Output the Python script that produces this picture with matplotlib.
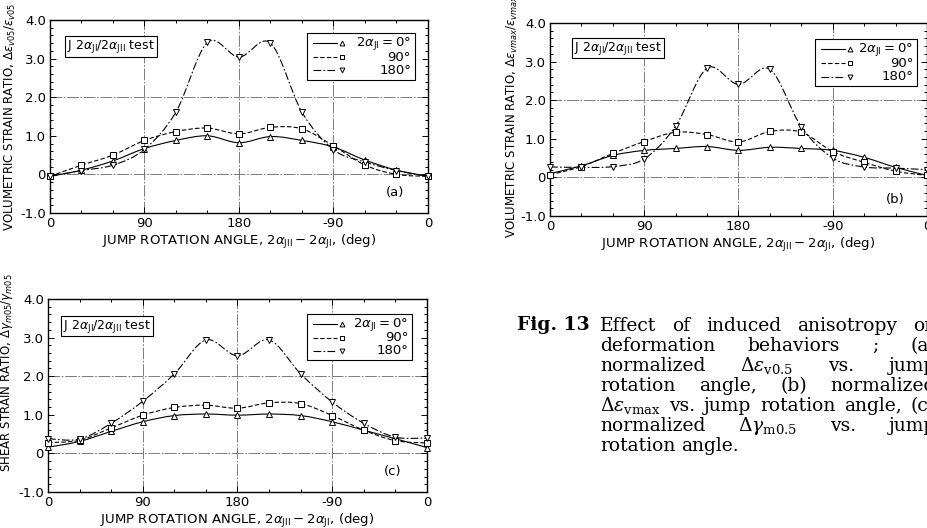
import matplotlib
matplotlib.use("Agg")
import matplotlib.pyplot as plt
from matplotlib.path import Path
from matplotlib.patches import PathPatch, Rectangle

W, H, DPI = 928, 528, 100

plt.rcParams["font.family"] = ["DejaVu Sans"]
plt.rcParams["mathtext.fontset"] = "dejavusans"

# jump rotation angle, 0..360 deg (labelled 0, 90, 180, -90, 0)
angle = [0, 30, 60, 90, 120, 150, 180, 210, 240, 270, 300, 330, 360]
tick_pos = [0, 90, 180, 270, 360]
tick_labels = ["0", "90", "180", "-90", "0"]

# (a) volumetric strain ratio, d eps_v0.5
a_0 = [-0.05, 0.11, 0.35, 0.67, 0.88, 1.00, 0.82, 0.98, 0.88, 0.71, 0.37, 0.11, -0.05]
a_90 = [-0.05, 0.24, 0.50, 0.88, 1.11, 1.20, 1.05, 1.22, 1.18, 0.74, 0.24, 0.00, -0.05]
a_180 = [-0.05, 0.10, 0.24, 0.65, 1.62, 3.42, 3.04, 3.40, 1.61, 0.64, 0.32, 0.10, -0.05]

# (b) volumetric strain ratio, d eps_vmax
b_0 = [0.10, 0.30, 0.57, 0.70, 0.75, 0.80, 0.70, 0.78, 0.75, 0.70, 0.52, 0.26, 0.05]
b_90 = [0.07, 0.28, 0.62, 0.93, 1.17, 1.11, 0.92, 1.19, 1.17, 0.67, 0.39, 0.16, 0.05]
b_180 = [0.27, 0.26, 0.28, 0.48, 1.33, 2.83, 2.41, 2.80, 1.31, 0.50, 0.27, 0.24, 0.20]

# (c) shear strain ratio, d gamma_m0.5
c_0 = [0.16, 0.31, 0.57, 0.82, 0.98, 1.02, 0.99, 1.02, 0.98, 0.82, 0.60, 0.38, 0.15]
c_90 = [0.28, 0.34, 0.66, 0.99, 1.19, 1.25, 1.17, 1.31, 1.29, 0.98, 0.60, 0.33, 0.27]
c_180 = [0.38, 0.37, 0.78, 1.35, 2.06, 2.94, 2.53, 2.94, 2.06, 1.33, 0.78, 0.42, 0.40]

series_labels = [r"$2\alpha_{\rm JI}=0°$", "90°", "180°"]
series_styles = ["-", (0, (4, 2)), (0, (7, 2, 1.5, 2))]
series_markers = ["^", "s", "v"]

ylabels = [
    r"VOLUMETRIC STRAIN RATIO, $\Delta\varepsilon_{v05}/\varepsilon_{v05}$",
    r"VOLUMETRIC STRAIN RATIO, $\Delta\varepsilon_{vmax}/\varepsilon_{vmax}$",
    r"SHEAR STRAIN RATIO, $\Delta\gamma_{m05}/\gamma_{m05}$",
]
xlabel = r"JUMP ROTATION ANGLE, $2\alpha_{\rm JII}-2\alpha_{\rm JI}$, (deg)"
test_label = r"J $2\alpha_{\rm JI}/2\alpha_{\rm JII}$ test"

caption_lines = [
    ["Effect", "of", "induced", "anisotropy", "on"],
    ["deformation", "behaviors", ";", "(a)"],
    ["normalized", r"$\Delta\varepsilon_{\rm v0.5}$", "vs.", "jump"],
    ["rotation", "angle,", "(b)", "normalized"],
    [r"$\Delta\varepsilon_{\rm vmax}$", "vs.", "jump", "rotation", "angle,", "(c)"],
    ["normalized", r"$\Delta\gamma_{\rm m0.5}$", "vs.", "jump"],
    ["rotation", "angle."],
]


def smooth_path(x, y):
    # Catmull-Rom through the points, drawn as cubic Bezier segments
    pts = list(zip(x, y))
    verts = [pts[0]]
    codes = [Path.MOVETO]
    n = len(pts)
    for i in range(n - 1):
        p0 = pts[max(i - 1, 0)]
        p1 = pts[i]
        p2 = pts[i + 1]
        p3 = pts[min(i + 2, n - 1)]
        c1 = (p1[0] + (p2[0] - p0[0]) / 6, p1[1] + (p2[1] - p0[1]) / 6)
        c2 = (p2[0] - (p3[0] - p1[0]) / 6, p2[1] - (p3[1] - p1[1]) / 6)
        verts += [c1, c2, p2]
        codes += [Path.CURVE4] * 3
    return Path(verts, codes)


def draw_panel(rect, data, ylabel, tag, leg_box, test_xy, tag_xy, ylab_xy):
    ax = fig.add_axes(rect)
    ax.set_xlim(0, 360)
    ax.set_ylim(-1.0, 4.0)
    ax.set_xticks(tick_pos)
    ax.set_xticklabels(tick_labels)
    ax.set_xticks(angle, minor=True)
    ax.set_yticks([-1, 0, 1, 2, 3, 4])
    ax.set_yticklabels(["-1.0", "0", "1.0", "2.0", "3.0", "4.0"])
    ax.set_yticks([v / 5 for v in range(-5, 21)], minor=True)
    ax.tick_params(which="both", direction="in", top=True, right=True,
                   labelsize=9.5, width=0.7, pad=3)
    ax.tick_params(which="major", length=4)
    ax.tick_params(which="minor", length=2)
    for s in ax.spines.values():
        s.set_linewidth(1.0)

    # reference grid
    gkw = dict(color="0.4", lw=0.6, linestyle=(0, (14, 2, 2, 2)), zorder=1)
    for gx in [90, 180, 270]:
        ax.axvline(gx, **gkw)
    for gy in [0, 2]:
        ax.axhline(gy, **gkw)

    for yv, ls, mk in zip(data, series_styles, series_markers):
        ax.add_patch(PathPatch(smooth_path(angle, yv), fill=False, edgecolor="k",
                               lw=0.8, linestyle=ls, zorder=3))
        ax.plot(angle, yv, linestyle="none", marker=mk, ms=4, mfc="white",
                mec="k", mew=0.7, zorder=4, clip_on=False)

    ax.set_ylabel(ylabel, fontsize=8.5)
    ax.yaxis.set_label_coords(*ylab_xy)
    ax.set_xlabel(xlabel, fontsize=9.5, labelpad=2)

    # hand-drawn legend box
    x0, x1, y0, y1 = leg_box
    ax.add_patch(Rectangle((x0, y0), x1 - x0, y1 - y0, transform=ax.transAxes,
                           fill=True, facecolor="white", edgecolor="k", lw=0.8,
                           zorder=5))
    rows = [y1 - (y1 - y0) * f for f in (0.22, 0.52, 0.8)]
    for ry, ls, mk, lab in zip(rows, series_styles, series_markers, series_labels):
        ax.plot([x0 + 0.015, x0 + 0.08], [ry, ry], transform=ax.transAxes,
                color="k", lw=0.8, linestyle=ls, zorder=6)
        ax.plot([x0 + 0.092], [ry], transform=ax.transAxes, marker=mk, ms=3.5,
                mfc="white", mec="k", mew=0.7, zorder=6)
        ax.text(x1 - 0.01, ry, lab, transform=ax.transAxes, ha="right",
                va="center", fontsize=9.5, zorder=6)

    ax.text(test_xy[0], test_xy[1], test_label, transform=ax.transAxes,
            ha="left", va="center", fontsize=9, zorder=6,
            bbox=dict(boxstyle="square,pad=0.15", facecolor="white",
                      edgecolor="k", lw=0.8))
    ax.text(tag_xy[0], tag_xy[1], tag, transform=ax.transAxes, ha="center",
            va="center", fontsize=9.5)
    return ax


fig = plt.figure(figsize=(W / DPI, H / DPI), dpi=DPI)

draw_panel([50 / W, 1 - 213 / H, 378 / W, 193 / H], [a_0, a_90, a_180],
           ylabels[0], "(a)", (0.68, 0.965, 0.69, 0.933), (0.045, 0.863),
           (0.913, 0.104), (-0.085, 0.5))
draw_panel([550 / W, 1 - 216 / H, 377 / W, 193 / H], [b_0, b_90, b_180],
           ylabels[1], "(b)", (0.703, 0.973, 0.674, 0.917), (0.064, 0.87),
           (0.915, 0.083), (-0.08, 0.52))
draw_panel([48 / W, 1 - 492 / H, 379 / W, 193 / H], [c_0, c_90, c_180],
           ylabels[2], "(c)", (0.683, 0.96, 0.684, 0.922), (0.04, 0.86),
           (0.91, 0.104), (-0.087, 0.62))

# caption, justified line by line like the printed page
plt.rcParams["mathtext.fontset"] = "dejavuserif"
cap_kw = dict(fontsize=13.5, family="DejaVu Serif", va="baseline", ha="left")
fig.text(517 / W, 1 - 330 / H, "Fig. 13", fontweight="bold", **cap_kw)
renderer = fig.canvas.get_renderer()
x_left, x_right = 600, 936
for i, words in enumerate(caption_lines):
    yb = 1 - (331 + 20 * i) / H
    texts = [fig.text(0, yb, w, **cap_kw) for w in words]
    widths = [t.get_window_extent(renderer).width for t in texts]
    if i < len(caption_lines) - 1:
        gap = max((x_right - x_left - sum(widths)) / (len(words) - 1), 4)
    else:
        gap = 6
    x = x_left
    for t, w in zip(texts, widths):
        t.set_x(x / W)
        x += w + gap

fig.savefig("out.png", dpi=DPI)
